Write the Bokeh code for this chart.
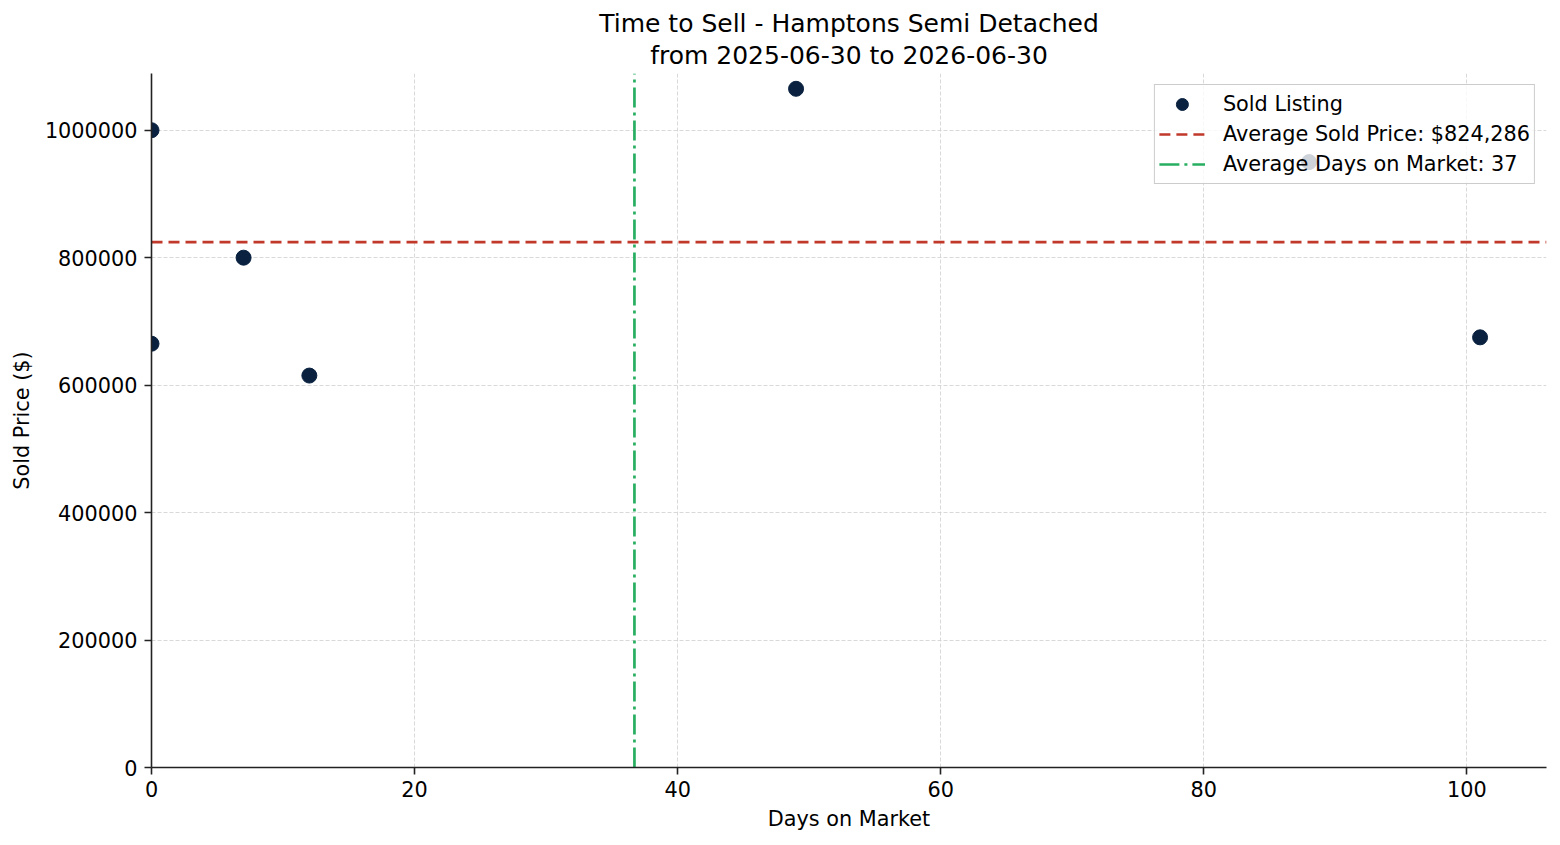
from bokeh.plotting import figure
from bokeh.models import (Range1d, Legend, LegendItem, Title,
                          SingleIntervalTicker, BasicTickFormatter, ColumnDataSource)
from bokeh.embed import file_html
from bokeh.resources import INLINE

# ---- data ----
days_on_market = [0, 0, 7, 12, 49, 88, 101]
sold_prices = [1000000, 665000, 800000, 615000, 1065000, 950000, 675000]
title_line1 = "Time to Sell - Hamptons Semi Detached"
title_line2 = "from 2025-06-30 to 2026-06-30"
x_label = "Days on Market"
y_label = "Sold Price ($)"

avg_price = sum(sold_prices) / len(sold_prices)
avg_days = sum(days_on_market) / len(days_on_market)

FONT = "DejaVu Sans"
LABEL_SIZE = "20.8px"
DOT = "#0a2240"
RED = "#c0392b"
GREEN = "#27ae60"

x_range = Range1d(0, 106.05)
y_range = Range1d(0, 1089000)

p = figure(width=1560, height=845, output_backend="svg", toolbar_location=None,
           title_location=None, x_range=x_range, y_range=y_range,
           min_border_left=151, min_border_right=14, min_border_top=73,
           min_border_bottom=78)
p.background_fill_color = "white"
p.border_fill_color = "white"
p.outline_line_color = None

# titles (first added is closest to the frame)
p.add_layout(Title(text=title_line2, align="center", text_font=FONT,
                   text_font_size="25px", text_font_style="normal",
                   text_color="black", standoff=7), "above")
p.add_layout(Title(text=title_line1, align="center", text_font=FONT,
                   text_font_size="25px", text_font_style="normal",
                   text_color="black", standoff=-5), "above")

# axes
p.xaxis.ticker = SingleIntervalTicker(interval=20)
p.yaxis.ticker = SingleIntervalTicker(interval=200000)
p.yaxis.formatter = BasicTickFormatter(use_scientific=False)
for ax in (p.xaxis[0], p.yaxis[0]):
    ax.axis_line_color = "#222222"
    ax.axis_line_width = 1.6
    ax.major_tick_line_color = "#222222"
    ax.major_tick_line_width = 1.6
    ax.major_tick_out = 7
    ax.major_tick_in = 0
    ax.minor_tick_line_color = None
    ax.major_label_text_font = FONT
    ax.major_label_text_font_size = LABEL_SIZE
    ax.major_label_text_color = "black"
    ax.axis_label_text_font = FONT
    ax.axis_label_text_font_size = LABEL_SIZE
    ax.axis_label_text_font_style = "normal"
    ax.axis_label_text_color = "black"
p.xaxis.axis_label = x_label
p.yaxis.axis_label = y_label
p.xaxis.major_label_standoff = 6
p.yaxis.major_label_standoff = 7
p.xaxis.axis_label_standoff = 7
p.yaxis.axis_label_standoff = 8

# grid
for g in (p.xgrid[0], p.ygrid[0]):
    g.grid_line_color = "#cfcfcf"
    g.grid_line_dash = "4 2"
    g.grid_line_width = 0.8

# scatter
src = ColumnDataSource(dict(x=days_on_market, y=sold_prices))
sc = p.scatter("x", "y", source=src, size=15, color=DOT, marker="circle")

# average lines (spanning the full plotting ranges)
r_red = p.line(x=[x_range.start, x_range.end], y=[avg_price, avg_price],
               line_color=RED, line_width=2.7, line_dash="11 6")
r_green = p.line(x=[avg_days, avg_days], y=[y_range.start, y_range.end],
                 line_color=GREEN, line_width=2.7, line_dash="20 5 3 5")

legend = Legend(items=[
    LegendItem(label="Sold Listing", renderers=[sc]),
    LegendItem(label=f"Average Sold Price: ${avg_price:,.0f}", renderers=[r_red]),
    LegendItem(label=f"Average Days on Market: {round(avg_days)}", renderers=[r_green]),
], location="top_right")
legend.margin = 11
legend.padding = 4
legend.spacing = 0
legend.glyph_width = 46
legend.glyph_height = 30
legend.label_height = 30
legend.label_standoff = 18
legend.label_text_font = FONT
legend.label_text_font_size = LABEL_SIZE
legend.label_text_color = "black"
legend.border_line_color = "#cccccc"
legend.border_line_alpha = 1.0
legend.border_line_width = 1.5
legend.background_fill_color = "white"
legend.background_fill_alpha = 0.8
p.add_layout(legend)

open("out.html", "w").write(file_html(p, INLINE))
